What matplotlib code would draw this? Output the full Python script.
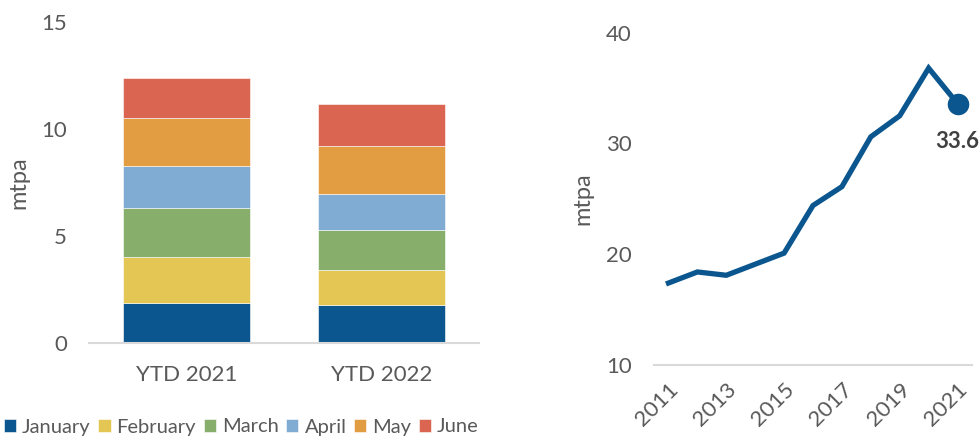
import matplotlib
matplotlib.use("Agg")
import matplotlib.pyplot as plt
import matplotlib.transforms as mtransforms
import numpy as np

plt.rcParams['font.family'] = ['Lato', 'DejaVu Sans']

# ---- data ----
periods = ["YTD 2021", "YTD 2022"]
months = ["January", "February", "March", "April", "May", "June"]
jan = [1.86, 1.76]
feb = [2.16, 1.64]
mar = [2.30, 1.90]
apr = [1.97, 1.68]
may = [2.21, 2.23]
jun = [1.90, 1.97]
month_values = [jan, feb, mar, apr, may, jun]
month_colors = ["#0b568e", "#e3c653", "#88ae6b", "#80abd2", "#e29c41", "#da6651"]

years = [2011, 2012, 2013, 2014, 2015, 2016, 2017, 2018, 2019, 2020, 2021]
volumes = [17.4, 18.4, 18.1, 19.1, 20.1, 24.4, 26.1, 30.6, 32.5, 36.8, 33.6]
year_ticks = [2011, 2013, 2015, 2017, 2019, 2021]

W, H = 980, 438
fig = plt.figure(figsize=(W / 100, H / 100), dpi=100)

tick_color = "#595959"
axis_color = "#d9d9d9"
FS = 16

# ---- left: stacked bars ----
ax1 = fig.add_axes([89 / W, 1 - 343 / H, (479 - 89) / W, (343 - 22) / H])
x = np.arange(len(periods))
bottom = np.zeros(len(periods))
handles = []
for name, vals, col in zip(months, month_values, month_colors):
    b = ax1.bar(x, vals, bottom=bottom, width=0.65, color=col, label=name,
                edgecolor="white", linewidth=0.4)
    bottom += np.array(vals)
    handles.append(b)
ax1.set_xlim(-0.5, 1.5)
ax1.set_ylim(0, 15)
ax1.set_yticks([0, 5, 10, 15])
ax1.set_xticks(x)
ax1.set_xticklabels(periods)
for s in ["top", "right", "left"]:
    ax1.spines[s].set_visible(False)
ax1.spines["bottom"].set_color(axis_color)
ax1.spines["bottom"].set_linewidth(1.5)
ax1.tick_params(axis="both", length=0, labelsize=FS, colors=tick_color)
ax1.tick_params(axis="y", pad=16)
ax1.tick_params(axis="x", pad=16)
ax1.set_ylabel("mtpa", fontsize=17, color=tick_color)
ax1.yaxis.set_label_coords(-60 / 390, 0.5)

fig.legend(handles=handles, labels=months, loc="center left",
           bbox_to_anchor=(0.0, 1 - 427 / H), ncol=6, frameon=False,
           fontsize=14.5, handlelength=0.6, handleheight=0.6,
           handletextpad=0.3, columnspacing=0.38, labelcolor=tick_color,
           borderaxespad=0.0, borderpad=0.2)

# ---- right: line ----
ax2 = fig.add_axes([654 / W, 1 - 365 / H, (972 - 654) / W, (365 - 32.7) / H])
ax2.plot(years, volumes, color="#0b568e", linewidth=3.8, solid_joinstyle="miter")
ax2.plot([years[-1]], [volumes[-1]], "o", color="#0b568e", markersize=14.5)
label_tr = mtransforms.offset_copy(ax2.transData, fig=fig, x=0, y=-38, units="dots")
ax2.text(years[-1], volumes[-1], f"{volumes[-1]:.1f}", transform=label_tr,
         ha="center", va="center", fontsize=FS, fontweight="bold",
         color="#404040", clip_on=False)
ax2.set_xlim(2010.5, 2021.5)
ax2.set_ylim(10, 40)
ax2.set_yticks([10, 20, 30, 40])
ax2.set_xticks(year_ticks)
ax2.set_xticklabels([str(y) for y in year_ticks], rotation=45, ha="right",
                    rotation_mode="anchor")
for s in ["top", "right", "left"]:
    ax2.spines[s].set_visible(False)
ax2.spines["bottom"].set_color(axis_color)
ax2.spines["bottom"].set_linewidth(1.5)
ax2.tick_params(axis="both", length=0, labelsize=FS, colors=tick_color)
ax2.tick_params(axis="y", pad=16)
ax2.tick_params(axis="x", pad=10)
ax2.set_ylabel("mtpa", fontsize=17, color=tick_color)
ax2.yaxis.set_label_coords(-61 / 318, 0.5)

fig.savefig("out.png", dpi=100)
